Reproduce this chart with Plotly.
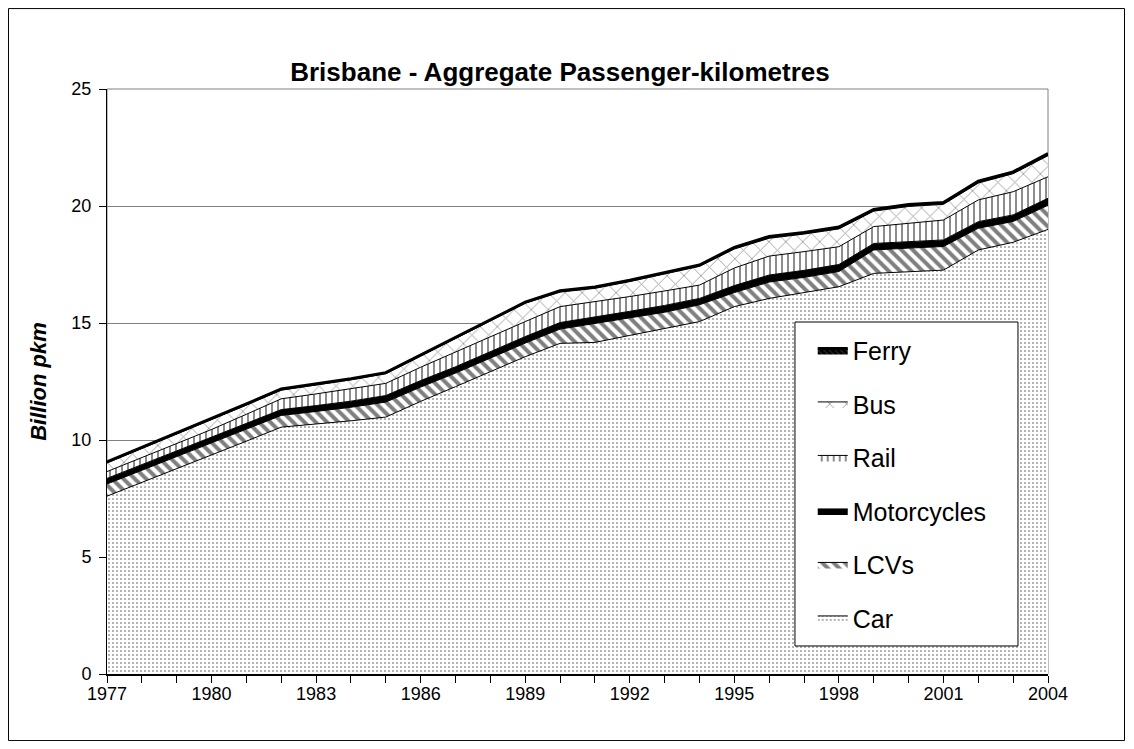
import plotly.graph_objects as go

years = list(range(1977, 2005))
car = [7.60, 8.18, 8.76, 9.34, 9.95, 10.55, 10.68, 10.82, 10.98, 11.65, 12.28, 12.92, 13.56, 14.13,
       14.17, 14.47, 14.76, 15.06, 15.70, 16.05, 16.30, 16.55, 17.12, 17.19, 17.26, 18.12, 18.45, 19.00]
lcvs = [0.52, 0.52, 0.52, 0.52, 0.51, 0.50, 0.54, 0.58, 0.64, 0.61, 0.58, 0.58, 0.58, 0.61,
        0.80, 0.75, 0.70, 0.72, 0.60, 0.70, 0.65, 0.65, 1.00, 1.01, 1.01, 0.93, 0.89, 1.03]
motorcycles = [0.24, 0.25, 0.26, 0.26, 0.26, 0.25, 0.25, 0.26, 0.28, 0.28, 0.27, 0.28, 0.28, 0.28,
               0.28, 0.28, 0.29, 0.27, 0.30, 0.30, 0.30, 0.30, 0.28, 0.28, 0.28, 0.28, 0.28, 0.30]
rail = [0.29, 0.30, 0.31, 0.33, 0.38, 0.46, 0.50, 0.52, 0.52, 0.57, 0.64, 0.64, 0.64, 0.68,
        0.66, 0.63, 0.62, 0.57, 0.75, 0.81, 0.80, 0.76, 0.72, 0.78, 0.85, 0.93, 0.99, 0.92]
bus = [0.37, 0.38, 0.39, 0.40, 0.39, 0.37, 0.37, 0.39, 0.41, 0.47, 0.55, 0.66, 0.78, 0.62,
       0.57, 0.64, 0.73, 0.80, 0.81, 0.76, 0.75, 0.76, 0.66, 0.72, 0.67, 0.72, 0.77, 0.90]
ferry = [0.05, 0.05, 0.05, 0.05, 0.05, 0.05, 0.05, 0.05, 0.05, 0.05, 0.05, 0.05, 0.05, 0.06,
         0.06, 0.06, 0.06, 0.06, 0.07, 0.08, 0.07, 0.08, 0.07, 0.08, 0.08, 0.08, 0.08, 0.09]

series = [
    ("Car", car, dict(shape=".", fgcolor="#333333", bgcolor="white", size=4, solidity=0.2), "white", 1),
    ("LCVs", lcvs, dict(shape="\\", fgcolor="black", bgcolor="white", size=8, solidity=0.5), "white", 1),
    ("Motorcycles", motorcycles, None, "black", 1),
    ("Rail", rail, dict(shape="|", fgcolor="black", bgcolor="white", size=6, solidity=0.3), "white", 1),
    ("Bus", bus, dict(shape="x", fgcolor="#444444", bgcolor="white", size=12, solidity=0.15), "white", 1),
    ("Ferry", ferry, dict(shape="\\", fgcolor="#555555", bgcolor="black", size=4, solidity=0.3), "black", 3),
]

fig = go.Figure()
n = len(series)
for i, (name, vals, pat, fc, lw) in enumerate(series):
    kw = dict(fillpattern=pat) if pat else {}
    fig.add_trace(go.Scatter(
        x=years, y=vals, name=name, mode="lines", stackgroup="one",
        line=dict(color="black", width=lw), fillcolor=fc, legendgroup=name,
        legendrank=n - i, **kw))

# plot-area frame (grey), legend box, outer chart border
fig.add_shape(type="rect", xref="paper", yref="paper", x0=0, x1=1, y0=0, y1=1,
              line=dict(color="#808080", width=1), layer="below")
fig.add_shape(type="rect", xref="paper", yref="paper", x0=0.7311, x1=0.9681, y0=0.0479, y1=0.6017,
              line=dict(color="black", width=1), fillcolor="white", layer="above")
fig.add_shape(type="rect", xref="paper", yref="paper", x0=-0.1047, x1=1.0813, y0=-0.1138, y1=1.1375,
              line=dict(color="black", width=1), layer="above")

font = "Liberation Sans, Arial, sans-serif"
fig.update_layout(
    width=1118, height=733,
    margin=dict(l=99, r=78, t=81, b=67),
    paper_bgcolor="white", plot_bgcolor="white",
    font=dict(family=font, color="black", size=18),
    title=dict(text="<b>Brisbane - Aggregate Passenger-kilometres</b>", x=0.4937, xref="container",
               xanchor="center", y=1 - 64 / 733, yanchor="middle", font=dict(size=26, family=font)),
    showlegend=True,
    legend=dict(x=0.750, y=0.592, xanchor="left", yanchor="top", bgcolor="rgba(0,0,0,0)",
                borderwidth=0, font=dict(size=25, family=font), traceorder="grouped",
                tracegroupgap=18),
    xaxis=dict(range=[1977, 2004], tick0=1977, dtick=3, ticks="outside", ticklen=7, tickcolor="black",
               showline=True, linecolor="black", linewidth=2, showgrid=False, zeroline=False,
               minor=dict(dtick=1, ticks="outside", ticklen=7, tickcolor="black"),
               tickfont=dict(size=18), ticklabelstandoff=-5),
    yaxis=dict(range=[0, 25], dtick=5, ticks="outside", ticklen=7, tickcolor="black",
               showline=True, linecolor="black", linewidth=1, showgrid=True, gridcolor="#808080",
               gridwidth=1, zeroline=False, tickfont=dict(size=18), ticklabelstandoff=4,
               title=dict(text="<b><i>Billion pkm</i></b>", font=dict(size=22), standoff=18)),
)

fig.write_html("out.html")
